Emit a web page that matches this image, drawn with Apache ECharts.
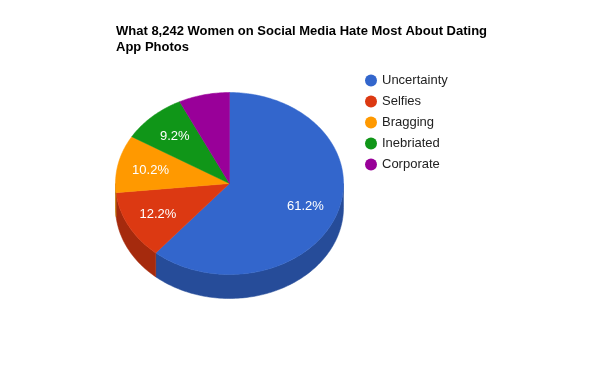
<!DOCTYPE html>
<html>
<head>
<meta charset="utf-8">
<script src="https://cdn.jsdelivr.net/npm/echarts@6/dist/echarts.min.js"></script>
<style>html,body{margin:0;padding:0;background:#fff;}#main{width:600px;height:390px;}</style>
</head>
<body>
<div id="main"></div>
<script>
var categories = ['Uncertainty', 'Selfies', 'Bragging', 'Inebriated', 'Corporate'];
var values = [61.2, 12.2, 10.2, 9.2, 7.2];
var topColors = ['#3366cc', '#dc3912', '#ff9900', '#109618', '#990099'];
var sideColors = ['#264c99', '#a52a0d', '#bf7300', '#0c7012', '#730073'];

var FONT = '"Liberation Sans", Arial, sans-serif';
var CX = 229.5, CY = 183.5, RX = 114, RY = 91, DEPTH = 24;
var total = values.reduce(function (a, b) { return a + b; }, 0);
var starts = [];
(function () { var acc = 0; for (var i = 0; i < values.length; i++) { starts.push(acc); acc += values[i]; } })();

function pt(theta, dy) {
  return [CX + Math.sin(theta) * RX, CY - Math.cos(theta) * RY + (dy || 0)];
}

function renderItem(params, api) {
  var i = params.dataIndex;
  var v = api.value(0);
  var a0 = starts[i] / total * Math.PI * 2;
  var a1 = a0 + v / total * Math.PI * 2;
  var children = [];
  var w0 = Math.max(a0, Math.PI / 2), w1 = Math.min(a1, Math.PI * 1.5);
  if (w1 > w0) {
    var wall = [];
    var n = Math.max(4, Math.ceil((w1 - w0) / 0.02));
    for (var k = 0; k <= n; k++) wall.push(pt(w0 + (w1 - w0) * k / n, 0));
    for (var k2 = n; k2 >= 0; k2--) wall.push(pt(w0 + (w1 - w0) * k2 / n, DEPTH));
    children.push({ type: 'polygon', shape: { points: wall }, style: { fill: sideColors[i], stroke: sideColors[i], lineWidth: 0.5 } });
  }
  var pts = [[CX, CY]];
  var m = Math.max(4, Math.ceil((a1 - a0) / 0.02));
  for (var j = 0; j <= m; j++) pts.push(pt(a0 + (a1 - a0) * j / m, 0));
  children.push({ type: 'polygon', shape: { points: pts }, style: { fill: topColors[i], stroke: topColors[i], lineWidth: 0.5 } });
  if (v / total >= 0.08) {
    var mid = (a0 + a1) / 2;
    children.push({
      type: 'text', z2: 10,
      x: CX + Math.sin(mid) * RX * 0.71, y: CY - Math.cos(mid) * RY * 0.71 + 1,
      style: { text: v.toFixed(1) + '%', fill: '#ffffff', fontSize: 13, fontFamily: FONT, align: 'center', verticalAlign: 'middle' }
    });
  }
  return { type: 'group', children: children };
}

var chart = echarts.init(document.getElementById('main'), null, { renderer: 'canvas' });
chart.setOption({
  animation: false,
  backgroundColor: '#ffffff',
  color: topColors,
  title: {
    text: 'What 8,242 Women on Social Media Hate Most About Dating\nApp Photos',
    left: 111, top: 18,
    textStyle: { fontSize: 13, fontWeight: 'bold', color: '#000000', fontFamily: FONT, lineHeight: 16 }
  },
  legend: {
    orient: 'vertical', left: 360, top: 69,
    icon: 'circle', itemWidth: 12, itemHeight: 12, itemGap: 8,
    selectedMode: false,
    data: categories,
    textStyle: { fontSize: 13, color: '#222222', fontFamily: FONT }
  },
  series: [
    {
      type: 'pie', radius: [0, 0], center: [CX, CY], silent: true,
      label: { show: false }, labelLine: { show: false },
      data: categories.map(function (c, i) { return { name: c, value: values[i] }; })
    },
    {
      type: 'custom', coordinateSystem: 'none', silent: true,
      renderItem: renderItem,
      data: values.map(function (v) { return [v]; })
    }
  ]
});
</script>
</body>
</html>
